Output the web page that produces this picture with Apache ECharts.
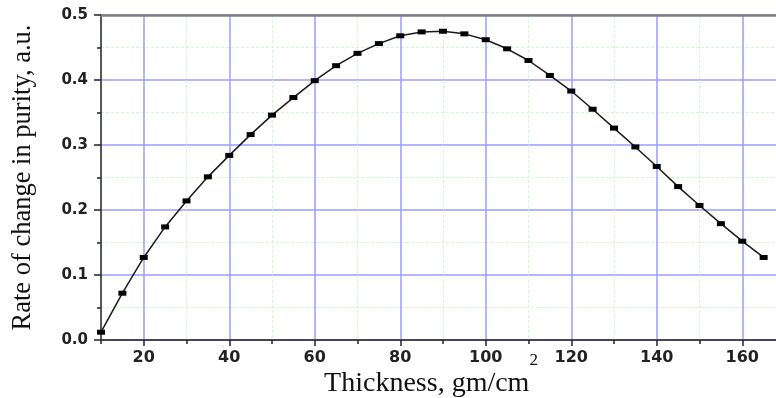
<!DOCTYPE html>
<html>
<head>
<meta charset="utf-8">
<script src="https://cdn.jsdelivr.net/npm/echarts@6/dist/echarts.min.js"></script>
<style>html,body{margin:0;padding:0;background:#fff;}#c{width:776px;height:398px;}</style>
</head>
<body>
<div id="c"></div>
<script>
const thickness = [10,15,20,25,30,35,40,45,50,55,60,65,70,75,80,85,90,95,100,105,110,115,120,125,130,135,140,145,150,155,160,165];
const purityRate = [0.012,0.072,0.127,0.174,0.214,0.251,0.284,0.316,0.346,0.373,0.399,0.422,0.441,0.456,0.468,0.474,0.475,0.471,0.462,0.448,0.430,0.407,0.383,0.355,0.326,0.297,0.267,0.236,0.207,0.179,0.152,0.127];
const xMajorTicks = [20,40,60,80,100,120,140,160];
const xMinorTicks = [10,30,50,70,90,110,130,150,170];
const yTickLabels = ['0.0','0.1','0.2','0.3','0.4','0.5'];

const chart = echarts.init(document.getElementById('c'), null, {renderer:'canvas'});
const labelFont = {fontFamily:'DejaVu Sans', fontWeight:'bold', color:'#222'};
chart.setOption({
  animation:false,
  backgroundColor:'#fff',
  grid:{left:101, top:15, width:684, height:325, containLabel:false, outerBoundsMode:'none'},
  xAxis:[
    {
      type:'value', min:10, max:170, position:'bottom',
      name:'Thickness, gm/cm{sup|2}', nameLocation:'middle', nameGap:12, nameMoveOverlap:false,
      nameTextStyle:{fontFamily:'Liberation Serif', fontSize:28, color:'#111', padding:[0,24,0,0],
        rich:{sup:{fontFamily:'Liberation Serif', fontSize:17, color:'#111', verticalAlign:'top', padding:[0,0,46,0]}}},
      axisLine:{show:true, onZero:false, lineStyle:{color:'#222', width:1.5}},
      axisTick:{show:true, customValues:xMajorTicks, length:6, lineStyle:{color:'#222', width:1.5}},
      axisLabel:{customValues:xMajorTicks, margin:10, fontSize:16, ...labelFont},
      splitLine:{show:true, lineStyle:{color:'#9c9cff', width:1.5}}
    },
    {
      type:'value', min:10, max:170, position:'bottom',
      axisLine:{show:false},
      axisTick:{show:true, customValues:xMinorTicks, length:4, lineStyle:{color:'#222', width:1.5}},
      axisLabel:{show:false},
      splitLine:{show:true, lineStyle:{color:'#d4f4d4', width:1, type:[3,2]}}
    },
    {
      type:'value', min:10, max:170, position:'top',
      axisLine:{show:true, onZero:false, lineStyle:{color:'#808080', width:2.5}},
      axisTick:{show:false}, axisLabel:{show:false}, splitLine:{show:false}
    }
  ],
  yAxis:{
    type:'value', min:0, max:0.5, interval:0.1,
    name:'Rate of change in purity, a.u.', nameLocation:'middle', nameGap:64, nameRotate:90, nameMoveOverlap:false,
    nameTextStyle:{fontFamily:'Liberation Serif', fontSize:26.5, color:'#111'},
    axisLine:{show:true, onZero:false, lineStyle:{color:'#222', width:1.5}},
    axisTick:{show:true, length:7, lineStyle:{color:'#222', width:1.5}},
    minorTick:{show:true, splitNumber:2, length:4, lineStyle:{color:'#222', width:1.5}},
    axisLabel:{margin:13, fontSize:15, ...labelFont, formatter:(v)=>yTickLabels[Math.round(v*10)]},
    splitLine:{show:true, lineStyle:{color:'#9c9cff', width:1.5}},
    minorSplitLine:{show:true, lineStyle:{color:'#d4f4d4', width:1, type:[3,2]}}
  },
  series:[{
    type:'line', xAxisIndex:0,
    data:thickness.map((x,i)=>[x,purityRate[i]]),
    symbol:'rect', symbolSize:[8,5], showSymbol:true,
    lineStyle:{color:'#1a1a1a', width:1.5},
    itemStyle:{color:'#000', borderWidth:0},
    clip:false
  }]
});
</script>
</body>
</html>
